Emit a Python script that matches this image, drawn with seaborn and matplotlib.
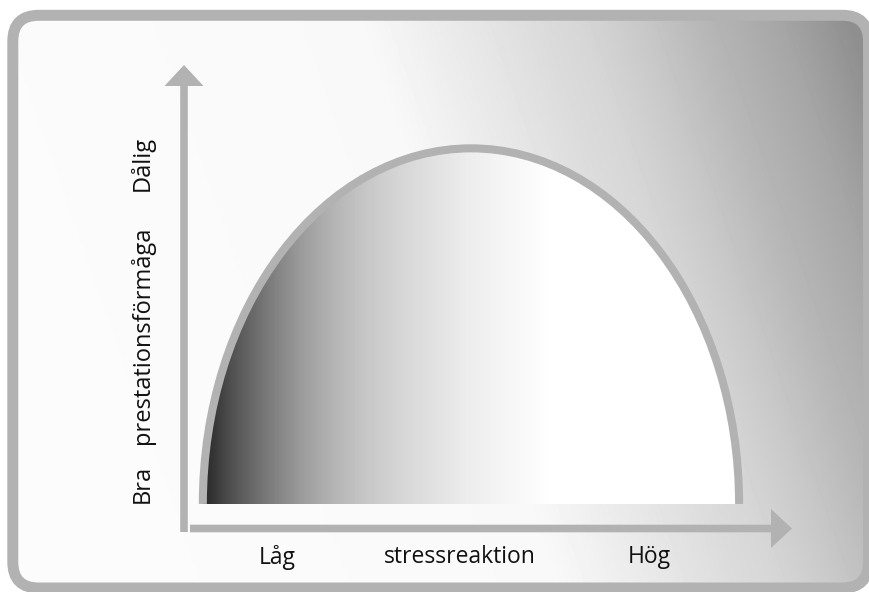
import matplotlib
matplotlib.use("Agg")
import matplotlib.pyplot as plt
import numpy as np
import seaborn as sns
from matplotlib.colors import LinearSegmentedColormap
from matplotlib.patches import Arc, Ellipse, FancyArrow, FancyBboxPatch

# stress (x) and performance (y) axes, both on a 0..10 scale
x_labels = ['Låg', 'stressreaktion', 'Hög']
x_label_pos = [1.54, 4.54, 7.66]
y_labels = ['Bra', 'prestationsförmåga', 'Dålig']
y_label_pos = [0.95, 4.17, 7.87]

# the inverted-U curve
curve_start = 0.31
curve_end = 9.13
curve_base = 0.52
curve_peak = 8.2

GREY = '#b2b2b2'
INK = '#111111'
W, H = 869, 592

sns.set_theme(style='white')
plt.rcParams['font.family'] = ['Open Sans', 'DejaVu Sans']

fig = plt.figure(figsize=(W / 100, H / 100), dpi=100)

# background layer in pixel units: rounded frame + slanted gradient
bg = fig.add_axes([0, 0, 1, 1])
bg.set_xlim(0, W)
bg.set_ylim(H, 0)
bg.axis('off')

frame = FancyBboxPatch((12.8, 15.3), 855.7, 572.7,
                       boxstyle='round,pad=0,rounding_size=26',
                       facecolor='none', edgecolor=GREY, linewidth=7.9, zorder=3)
bg.add_patch(frame)
xx, yy = np.meshgrid(np.arange(W), np.arange(H))
u = xx - 0.35 * (yy - 80)
shade = np.interp(u, [0, 380, 450, 500, 560, 600, 660, 720, 800, 870],
                  [0.985, 0.975, 0.93, 0.90, 0.86, 0.84, 0.785, 0.72, 0.65, 0.56])
im = bg.imshow(shade, cmap='gray', vmin=0, vmax=1, extent=[0, W, H, 0],
               aspect='auto', zorder=0)
im.set_clip_path(frame)

# axis arrows
bg.add_patch(FancyArrow(184, 532, 0, 65 - 532, width=7.6, head_width=39,
                        head_length=21, length_includes_head=True,
                        color=GREY, lw=0, zorder=2))
bg.add_patch(FancyArrow(190, 528.5, 792 - 190, 0, width=7.6, head_width=39,
                        head_length=21, length_includes_head=True,
                        color=GREY, lw=0, zorder=2))

# chart layer
ax = fig.add_axes([184 / W, 1 - 528 / H, (792 - 184) / W, (528 - 65) / H])
ax.patch.set_visible(False)
sns.despine(ax=ax, left=True, bottom=True)

cx = (curve_start + curve_end) / 2
rx = curve_end - curve_start
ry = 2 * (curve_peak - curve_base)

fill_stops = [(0.0, 0.16), (0.056, 0.33), (0.119, 0.48), (0.181, 0.61),
              (0.243, 0.71), (0.306, 0.785), (0.368, 0.84), (0.43, 0.885),
              (0.493, 0.93), (0.554, 0.96), (0.647, 1.0), (1.0, 1.0)]
fill_cmap = LinearSegmentedColormap.from_list(
    'fill', [(p, (g, g, g)) for p, g in fill_stops])

grad = ax.imshow(np.linspace(0, 1, 600)[None, :], cmap=fill_cmap,
                 extent=[curve_start, curve_end, curve_base, curve_peak],
                 aspect='auto', interpolation='bilinear', origin='lower')
clip = Ellipse((cx, curve_base), rx, ry, transform=ax.transData)
grad.set_clip_path(clip)
ax.add_patch(Arc((cx, curve_base), rx, ry, theta1=0, theta2=180,
                 edgecolor=GREY, lw=5.8))

ax.set_xlim(0, 10)
ax.set_ylim(0, 10)
ax.set_xticks(x_label_pos, x_labels)
ax.set_yticks(y_label_pos, y_labels)
ax.tick_params(axis='x', length=0, pad=12.5, labelsize=16.5, labelcolor=INK)
ax.tick_params(axis='y', length=0, pad=21, labelsize=17, labelcolor=INK,
               labelrotation=90)
for t in ax.get_yticklabels():
    t.set_va('center')

fig.savefig('out.png', dpi=100)
